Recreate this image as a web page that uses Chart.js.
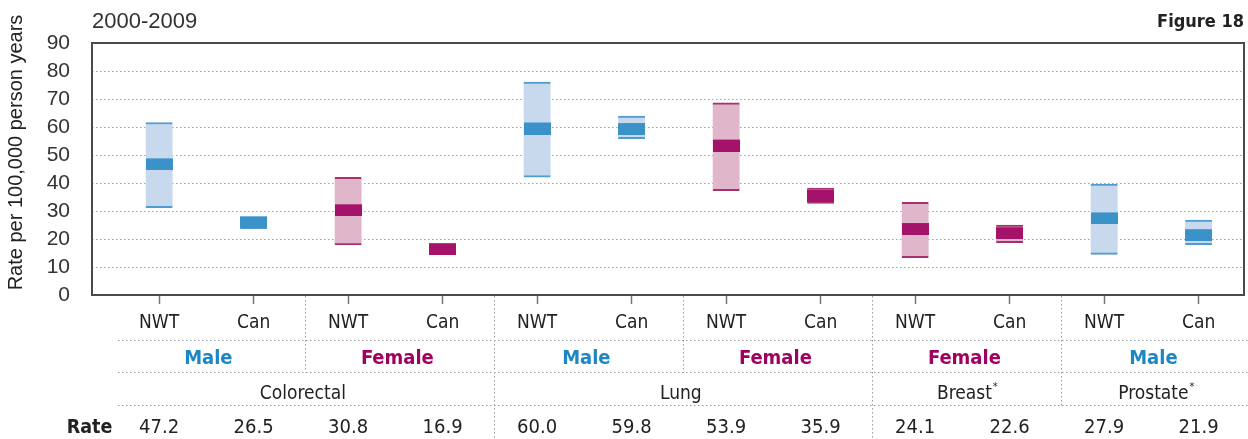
<!DOCTYPE html>
<html>
<head>
<meta charset="utf-8">
<script src="https://cdn.jsdelivr.net/npm/chart.js@4.4.1/dist/chart.umd.min.js"></script>
<style>
  html, body { margin: 0; padding: 0; background: #fff; }
  #wrap { width: 1248px; height: 439px; }
</style>
</head>
<body>
<div id="wrap"><canvas id="chart" width="1248" height="439"></canvas></div>
<script>
// data
const places = ["NWT", "Can", "NWT", "Can", "NWT", "Can", "NWT", "Can", "NWT", "Can", "NWT", "Can"];
const sexes = ["Male", "Male", "Female", "Female", "Male", "Male", "Female", "Female", "Female", "Female", "Male", "Male"];
const sites = ["Colorectal", "Colorectal", "Colorectal", "Colorectal", "Lung", "Lung", "Lung", "Lung", "Breast*", "Breast*", "Prostate*", "Prostate*"];
const rates = [47.2, 26.5, 30.8, 16.9, 60.0, 59.8, 53.9, 35.9, 24.1, 22.6, 27.9, 21.9];
const ciLow = [31.2, 23.7, 17.9, 15.9, 42.1, 55.8, 37.3, 32.7, 13.3, 18.7, 14.5, 18.0];
const ciHigh = [61.6, 27.6, 42.0, 17.6, 76.0, 63.9, 68.6, 38.2, 33.1, 25.0, 39.6, 26.8];
const yTicks = [0, 10, 20, 30, 40, 50, 60, 70, 80, 90];

const period = "2000-2009";
const figureLabel = "Figure 18";
const yTitle = "Rate per 100,000 person years";
const rateLabel = "Rate";

const COND = "'DejaVu Sans Condensed', 'Liberation Sans Narrow', sans-serif";
const SANS = "'Liberation Sans', Arial, sans-serif";

const colors = {
  Male: { light: "#c8d8ed", cap: "#4f9dd0", band: "#3a92c8", text: "#1b87c5" },
  Female: { light: "#e0b7ca", cap: "#a8306e", band: "#a5126a", text: "#a0005e" }
};

// rate marker: a flat box drawn as the point image
function makeMarker(color) {
  const c = document.createElement("canvas");
  c.width = 27;
  c.height = 15;
  const g = c.getContext("2d");
  g.fillStyle = color;
  g.fillRect(0, 3, 27, 12);
  return c;
}

const markers = {
  Male: makeMarker(colors.Male.band),
  Female: makeMarker(colors.Female.band)
};

// runs of equal values -> [start, end, value]
function groupsOf(keys) {
  const out = [];
  keys.forEach((k, i) => {
    const last = out[out.length - 1];
    if (last && last[2] === k) last[1] = i;
    else out.push([i, i, k]);
  });
  return out;
}

const tablePlugin = {
  id: "tableRows",
  afterDraw(chart) {
    const { ctx, chartArea: a, scales: { x } } = chart;
    const px = v => x.getPixelForValue(v);
    ctx.save();

    // frame round the plot
    ctx.strokeStyle = "#4a4a4a";
    ctx.lineWidth = 2;
    ctx.strokeRect(a.left, a.top, a.right - a.left, a.bottom - a.top);

    // header texts
    ctx.fillStyle = "#333";
    ctx.font = "22px " + SANS;
    ctx.textAlign = "left";
    ctx.textBaseline = "alphabetic";
    ctx.fillText(period, a.left, 27.5);
    ctx.font = "bold 18px " + COND;
    ctx.textAlign = "right";
    ctx.fillStyle = "#222";
    ctx.fillText(figureLabel, a.right, 26.5);

    // y title
    ctx.save();
    ctx.translate(21.5, 152.5);
    ctx.rotate(-Math.PI / 2);
    ctx.font = "20px " + SANS;
    ctx.textAlign = "center";
    ctx.fillStyle = "#222";
    ctx.fillText(yTitle, 0, 0);
    ctx.restore();

    // dotted rules of the table
    ctx.strokeStyle = "#9a9a9a";
    ctx.lineWidth = 1;
    ctx.setLineDash([1.5, 2.5]);
    [340.5, 372.5, 405.5].forEach(y => {
      ctx.beginPath();
      ctx.moveTo(118, y);
      ctx.lineTo(1248, y);
      ctx.stroke();
    });

    // dividers between groups
    for (let i = 0; i < places.length - 1; i++) {
      let end = null;
      if (sites[i] !== sites[i + 1]) end = (i + 1 === places.length - 2) ? 405.5 : 439;
      else if (sexes[i] !== sexes[i + 1]) end = 372.5;
      if (end === null) continue;
      const xx = Math.round(px(i + 0.54)) + 0.5;
      ctx.beginPath();
      ctx.moveTo(xx, a.bottom + 1);
      ctx.lineTo(xx, end);
      ctx.stroke();
    }
    ctx.setLineDash([]);

    // sex row
    ctx.textAlign = "center";
    ctx.font = "bold 20px " + COND;
    const sexKeys = sexes.map((s, i) => s + "|" + sites[i]);
    groupsOf(sexKeys).forEach(([s, e]) => {
      const sex = sexes[s];
      ctx.fillStyle = colors[sex].text;
      ctx.fillText(sex, (px(s) + px(e)) / 2 + 2, 363.5);
    });

    // site row
    ctx.fillStyle = "#222";
    groupsOf(sites).forEach(([s, e, name]) => {
      const cx = (px(s) + px(e)) / 2 + 2;
      const star = name.endsWith("*");
      const word = star ? name.slice(0, -1) : name;
      ctx.font = "19px " + COND;
      ctx.textAlign = "center";
      ctx.fillText(word, cx, 399);
      if (star) {
        const w = ctx.measureText(word).width;
        ctx.font = "11px " + COND;
        ctx.textAlign = "left";
        ctx.fillText("*", cx + w / 2 + 1, 390);
      }
    });

    // rate row
    ctx.textAlign = "center";
    ctx.font = "bold 19.5px " + COND;
    ctx.fillStyle = "#222";
    ctx.fillText(rateLabel, 89.5, 432.5);
    ctx.font = "20px " + COND;
    rates.forEach((r, i) => ctx.fillText(r.toFixed(1), px(i), 432.5));

    ctx.restore();
  }
};

new Chart(document.getElementById("chart"), {
  type: "bar",
  data: {
    datasets: [
      {
        type: "scatter",
        label: "Rate",
        data: rates.map((r, i) => ({ x: i, y: r })),
        pointStyle: sexes.map(s => markers[s]),
        pointRadius: 1,
        order: 1
      },
      {
        type: "bar",
        label: "95% CI",
        data: places.map((p, i) => ({ x: i, y: [ciLow[i], ciHigh[i]] })),
        backgroundColor: sexes.map(s => colors[s].light),
        borderColor: sexes.map(s => colors[s].cap),
        borderWidth: { top: 2, bottom: 2, left: 0, right: 0 },
        borderSkipped: false,
        barThickness: 27,
        order: 2
      }
    ]
  },
  options: {
    responsive: false,
    animation: false,
    devicePixelRatio: 1,
    layout: { autoPadding: false, padding: { top: 43, right: 4, left: 0, bottom: 0 } },
    plugins: {
      legend: { display: false },
      tooltip: { enabled: false }
    },
    scales: {
      x: {
        type: "linear",
        min: -0.71,
        max: 11.48,
        offset: false,
        afterBuildTicks: s => { s.ticks = places.map((p, i) => ({ value: i })); },
        afterFit: s => { s.height = 144; },
        ticks: {
          callback: v => places[v],
          autoSkip: false,
          maxRotation: 0,
          padding: 8,
          color: "#222",
          font: { family: COND, size: 19 }
        },
        grid: { offset: false, drawOnChartArea: false, tickLength: 9, tickColor: "#777", tickWidth: 1.5 },
        border: { display: false }
      },
      y: {
        min: 0,
        max: 90,
        afterBuildTicks: s => { s.ticks = yTicks.map(v => ({ value: v })); },
        afterFit: s => { s.width = 92; },
        ticks: {
          autoSkip: false,
          padding: 22,
          color: "#333",
          font: { family: SANS, size: 21 }
        },
        grid: {
          drawTicks: false,
          lineWidth: 1,
          color: c => (c.tick && (c.tick.value === 0 || c.tick.value === 90)) ? "rgba(0,0,0,0)" : "#a3a3a3"
        },
        border: { display: false, dash: [1.5, 2.5] }
      }
    }
  },
  plugins: [tablePlugin]
});
</script>
</body>
</html>
